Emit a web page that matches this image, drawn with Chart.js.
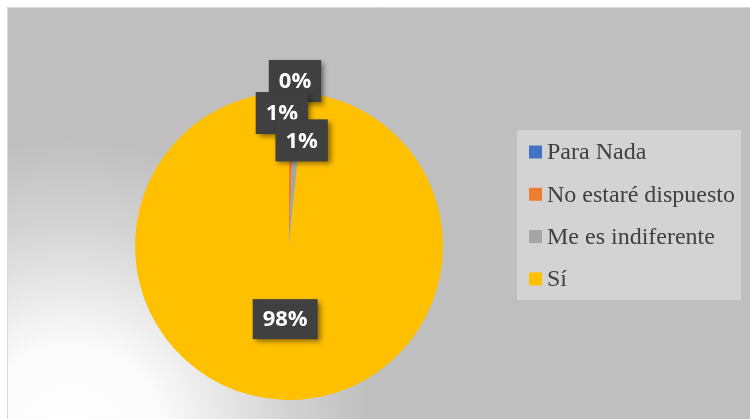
<!DOCTYPE html>
<html>
<head>
<meta charset="utf-8">
<script src="https://cdn.jsdelivr.net/npm/chart.js@4/dist/chart.umd.min.js"></script>
<style>
  html, body { margin: 0; padding: 0; background: #fff; }
  #wrap { width: 750px; height: 419px; position: relative; }
</style>
</head>
<body>
<div id="wrap"><canvas id="pieChart" width="750" height="419"></canvas></div>
<script>
const categories = ['Para Nada', 'No estaré dispuesto', 'Me es indiferente', 'Sí'];
const values = [0, 0.6, 1.0, 98.4];
const colors = ['#4472c4', '#ed7d31', '#a5a5a5', '#ffc000'];

const LABEL_FONT = 'bold 22px "Open Sans", "DejaVu Sans", sans-serif';
const LEGEND_FONT = '24px "Liberation Serif", "Times New Roman", serif';

// background: white page, grey panel with a light glow from the bottom left
const backdrop = {
  id: 'backdrop',
  beforeDraw(chart) {
    const c = chart.ctx;
    c.save();
    c.fillStyle = '#ffffff';
    c.fillRect(0, 0, chart.width, chart.height);
    const g = c.createRadialGradient(70, 440, 0, 70, 440, 430);
    g.addColorStop(0, '#ffffff');
    g.addColorStop(0.22, '#fbfbfb');
    g.addColorStop(0.5, '#d4d4d4');
    g.addColorStop(0.7, '#bfbfbf');
    g.addColorStop(1, '#bfbfbf');
    c.fillStyle = g;
    c.fillRect(7, 7, chart.width - 7, chart.height - 7);
    c.strokeStyle = '#d9d9d9';
    c.lineWidth = 1;
    c.beginPath();
    c.moveTo(7.5, chart.height);
    c.lineTo(7.5, 7.5);
    c.lineTo(chart.width, 7.5);
    c.stroke();
    c.restore();
  }
};

// dark callout boxes with percentages
const pctLabels = {
  id: 'pctLabels',
  afterDatasetsDraw(chart) {
    const c = chart.ctx;
    const arcs = chart.getDatasetMeta(0).data;
    const total = values.reduce((a, b) => a + b, 0);
    const place = [[1, 6, -11], [1, -10, 21], [1, 2, 48], [0.495, 0, -3]];
    c.save();
    c.font = LABEL_FONT;
    c.textAlign = 'center';
    c.textBaseline = 'middle';
    arcs.forEach((arc, i) => {
      const p = arc.getProps(['x', 'y', 'startAngle', 'endAngle', 'outerRadius'], true);
      const mid = (p.startAngle + p.endAngle) / 2;
      const r = p.outerRadius * place[i][0];
      const cx = p.x + Math.cos(mid) * r + place[i][1];
      const cy = p.y + Math.sin(mid) * r + place[i][2];
      const txt = Math.round(values[i] / total * 100) + '%';
      const w = c.measureText(txt).width + 20;
      const h = i === 3 ? 40 : 42;
      c.shadowColor = 'rgba(0,0,0,0.45)';
      c.shadowBlur = 5;
      c.shadowOffsetX = 3;
      c.shadowOffsetY = 3;
      c.fillStyle = '#404040';
      c.fillRect(cx - w / 2, cy - h / 2, w, h);
      c.shadowColor = 'transparent';
      c.fillStyle = '#ffffff';
      c.fillText(txt, cx, cy + 1);
    });
    c.restore();
  }
};

// legend panel on the right
const sideLegend = {
  id: 'sideLegend',
  afterDraw(chart) {
    const c = chart.ctx;
    c.save();
    c.fillStyle = '#d3d3d3';
    c.fillRect(517, 130, 224, 170);
    c.font = LEGEND_FONT;
    c.textBaseline = 'middle';
    chart.data.labels.forEach((lab, i) => {
      const y = 152 + i * 42.3;
      c.fillStyle = chart.data.datasets[0].backgroundColor[i];
      c.fillRect(529, y - 6.5, 13, 13);
      c.fillStyle = '#404040';
      c.fillText(lab, 547, y + 1);
    });
    c.restore();
  }
};

function drawChart() {
  const ctx = document.getElementById('pieChart').getContext('2d');
  new Chart(ctx, {
    type: 'pie',
    data: {
      labels: categories,
      datasets: [{
        data: values,
        backgroundColor: colors,
        borderWidth: 0,
      }],
    },
    options: {
      responsive: false,
      animation: false,
      layout: { padding: { top: 92, bottom: 19, left: 135, right: 307 } },
      plugins: {
        legend: { display: false },
        tooltip: { enabled: false },
      },
    },
    plugins: [backdrop, pctLabels, sideLegend],
  });
}

Promise.all([
  document.fonts.load(LABEL_FONT, '0%'),
  document.fonts.load(LEGEND_FONT, 'Para Nada'),
]).then(drawChart, drawChart);
</script>
</body>
</html>
